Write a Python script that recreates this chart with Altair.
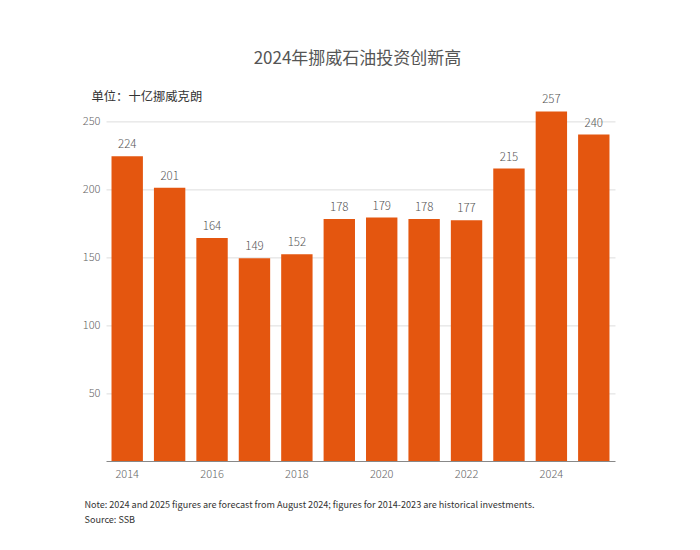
import altair as alt
import pandas as pd

years = [str(y) for y in range(2014, 2026)]
values = [224, 201, 164, 149, 152, 178, 179, 178, 177, 215, 257, 240]
y_ticks = [50, 100, 150, 200, 250]

title_text = "2024年挪威石油投资创新高"
unit_text = "单位：十亿挪威克朗"
note_lines = [
    "Note: 2024 and 2025 figures are forecast from August 2024; figures for 2014-2023 are historical investments.",
    "Source: SSB",
]

df = pd.DataFrame({"year": years, "value": values})
FONT = "Noto Sans CJK SC"

x = alt.X(
    "year:O",
    sort=years,
    scale=alt.Scale(paddingInner=0.26, paddingOuter=0.13),
    axis=alt.Axis(
        labelAngle=0,
        labelExpr="toNumber(datum.value) % 2 == 0 ? datum.value : ''",
        ticks=False,
        domainColor="#888888",
        domainWidth=1,
        labelColor="#666666",
        labelFontSize=11,
        labelFontWeight=300,
        labelPadding=7,
        labelFont=FONT,
        title=note_lines,
        titleFont=FONT,
        titleFontSize=9.1,
        titleFontWeight="normal",
        titleColor="#333333",
        titleAnchor="start",
        titleAlign="left",
        titleBaseline="alphabetic",
        titleX=-22,
        titleY=46,
        titleLineHeight=15,
    ),
)
y = alt.Y(
    "value:Q",
    scale=alt.Scale(domain=[0, 260], nice=False),
    axis=alt.Axis(
        values=y_ticks,
        ticks=False,
        domain=False,
        gridColor="#dddddd",
        labelColor="#666666",
        labelFontSize=11,
        labelFontWeight=300,
        labelPadding=6,
        labelFont=FONT,
        title=unit_text,
        titleFont=FONT,
        titleFontSize=12.3,
        titleFontWeight="normal",
        titleColor="#333333",
        titleAngle=0,
        titleAlign="left",
        titleBaseline="alphabetic",
        titleX=-15,
        titleY=-7,
    ),
)

bars = alt.Chart(df).mark_bar(color="#E4560F").encode(x=x, y=y)
labels = alt.Chart(df).mark_text(
    baseline="bottom", dy=-6, fontSize=11.5, fontWeight=300, color="#555555", font=FONT
).encode(x=alt.X("year:O", sort=years), y="value:Q", text="value:Q")

chart = (
    alt.layer(bars, labels)
    .properties(
        width=509,
        height=353.6,
        background="white",
        autosize=alt.AutoSizeParams(type="none"),
        padding={"left": 98, "top": 99.4, "right": 77, "bottom": 80},
        title=alt.TitleParams(
            title_text,
            font=FONT,
            fontSize=17,
            fontWeight="normal",
            color="#555555",
            anchor="middle",
            offset=22,
            dx=-3,
        ),
    )
    .configure_view(stroke=None)
)

chart.save("out.html", embed_options={"renderer": "svg", "actions": False})
